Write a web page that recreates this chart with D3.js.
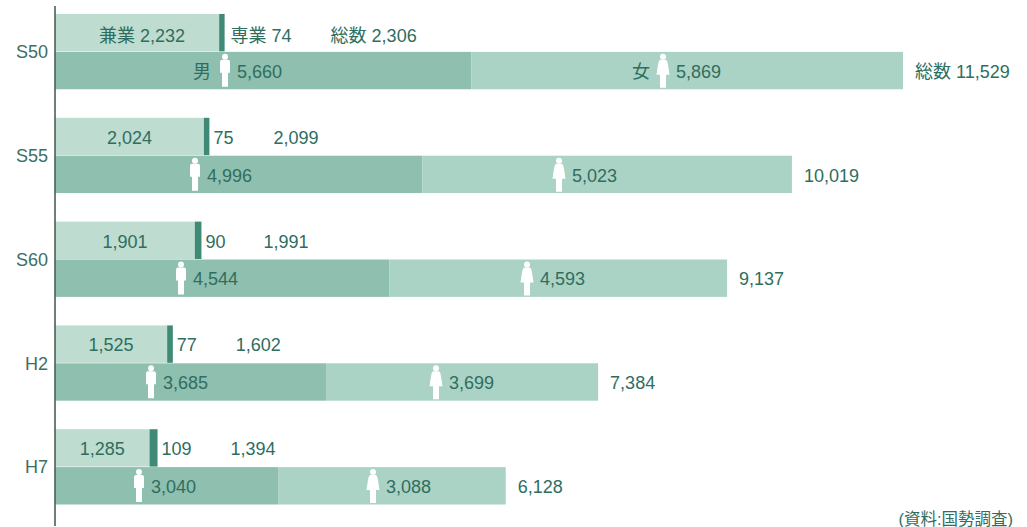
<!DOCTYPE html>
<html>
<head>
<meta charset="utf-8">
<script src="https://cdn.jsdelivr.net/npm/d3@7"></script>
<style>
body { margin: 0; background: #fff; }
text { font-family: "Liberation Sans", "Noto Sans CJK JP", sans-serif; }
</style>
</head>
<body>
<div id="chart-container"></div>
<script>
// Values
const years = ["S50", "S55", "S60", "H2", "H7"];
const parttime = [2232, 2024, 1901, 1525, 1285];
const fulltime = [74, 75, 90, 77, 109];
const farmTotal = [2306, 2099, 1991, 1602, 1394];
const male = [5660, 4996, 4544, 3685, 3040];
const female = [5869, 5023, 4593, 3699, 3088];
const popTotal = [11529, 10019, 9137, 7384, 6128];

// Hand placement of the annotations, not data
const totalGap = [106, 64, 62, 63, 73];
const manX = [225, 195, 181, 151, 139];
const womanX = [663, 559, 527, 436, 373];

const W = 1027, H = 527;
const fmt = d3.format(",");
const textColor = "#2f6e5f";

const svg = d3.select("#chart-container")
    .append("svg")
    .attr("width", W)
    .attr("height", H)
    .style("display", "block");

const x = d3.scaleLinear().domain([0, 11529]).range([55, 903]);

const y = d3.scaleBand()
    .domain(d3.range(years.length))
    .range([14, 505])
    .paddingInner(0.27);

const half = y.bandwidth() / 2;
const topY = i => y(i);
const lowY = i => y(i) + half;

const rows = d3.range(years.length);

function bars(cls, rowY, from, to, fill) {
    svg.selectAll("." + cls)
        .data(rows)
        .enter()
        .append("rect")
        .attr("class", cls)
        .attr("x", i => x(from(i)))
        .attr("y", rowY)
        .attr("width", i => x(to(i)) - x(from(i)))
        .attr("height", half - 0.5)
        .attr("fill", fill);
}

bars("parttime", topY, () => 0, i => parttime[i], "#bedcd0");
bars("fulltime", topY, i => parttime[i], i => farmTotal[i], "#3f8a74");
bars("male", lowY, () => 0, i => male[i], "#8fbfaf");
bars("female", lowY, i => male[i], i => popTotal[i], "#abd3c5");

// Year axis
const axis = svg.append("g")
    .attr("transform", "translate(55,0)")
    .call(d3.axisLeft(d3.scalePoint()
        .domain(years)
        .range([y(0) + half, y(4) + half]))
        .tickSize(0)
        .tickPadding(7));
axis.select(".domain").remove();
axis.selectAll("text")
    .attr("font-size", 18)
    .attr("fill", "#3c6f64")
    .style("font-family", '"Liberation Sans", sans-serif');
svg.append("line")
    .attr("x1", 55).attr("x2", 55)
    .attr("y1", 6).attr("y2", 526)
    .attr("stroke", "#4a5f58")
    .attr("stroke-width", 1.6);

function labels(cls, rowY, posX, anchor, str) {
    svg.selectAll("." + cls)
        .data(rows)
        .enter()
        .append("text")
        .attr("class", cls)
        .attr("x", posX)
        .attr("y", i => rowY(i) + half / 2 + 7 + (i === 0 && rowY === topY ? 2 : 0))
        .attr("text-anchor", anchor)
        .attr("font-size", 18)
        .attr("fill", textColor)
        .text(str);
}

labels("l-part", topY, i => (x(0) + x(parttime[i])) / 2 + (i === 0 ? 5 : 0), "middle",
    i => (i === 0 ? "兼業 " : "") + fmt(parttime[i]));
labels("l-full", topY, i => x(farmTotal[i]) + (i === 0 ? 6 : 4), "start",
    i => (i === 0 ? "専業 " : "") + fmt(fulltime[i]));
labels("l-farm", topY, i => x(farmTotal[i]) + totalGap[i], "start",
    i => (i === 0 ? "総数 " : "") + fmt(farmTotal[i]));
labels("l-male", lowY, i => manX[i] + 12, "start", i => fmt(male[i]));
labels("l-female", lowY, i => womanX[i] + 13, "start", i => fmt(female[i]));
labels("l-pop", lowY, i => x(popTotal[i]) + 12, "start",
    i => (i === 0 ? "総数 " : "") + fmt(popTotal[i]));

// 男 / 女 only on the first row
svg.append("text").attr("x", manX[0] - 14).attr("y", lowY(0) + half / 2 + 7)
    .attr("text-anchor", "end").attr("font-size", 18).attr("fill", textColor).text("男");
svg.append("text").attr("x", womanX[0] - 13).attr("y", lowY(0) + half / 2 + 7)
    .attr("text-anchor", "end").attr("font-size", 18).attr("fill", textColor).text("女");

// Person pictograms
const manPath = "M-5,-8 Q-5,-10 -3,-10 L3,-10 Q5,-10 5,-8 L5,3 L3,3 L3,17 L-3,17 L-3,3 L-5,3 Z";
const womanPath = "M-3,-10 L3,-10 Q4.5,-9 5,-5 L6.5,5 L3,5 L3,18 L-3,18 L-3,5 L-6.5,5 L-5,-5 Q-4.5,-9 -3,-10 Z";

function person(cls, posX, path) {
    const g = svg.selectAll("." + cls)
        .data(rows)
        .enter()
        .append("g")
        .attr("class", cls)
        .attr("transform", i => `translate(${posX[i]},${lowY(i) + half / 2 - 1})`)
        .attr("fill", "#fff");
    g.append("circle").attr("cy", -13).attr("r", 3);
    g.append("path").attr("d", path);
}

person("man", manX, manPath);
person("woman", womanX, womanPath);

svg.append("text")
    .attr("x", 1013)
    .attr("y", 525)
    .attr("text-anchor", "end")
    .attr("font-size", 16.5)
    .attr("fill", textColor)
    .text("(資料:国勢調査)");
</script>
</body>
</html>
